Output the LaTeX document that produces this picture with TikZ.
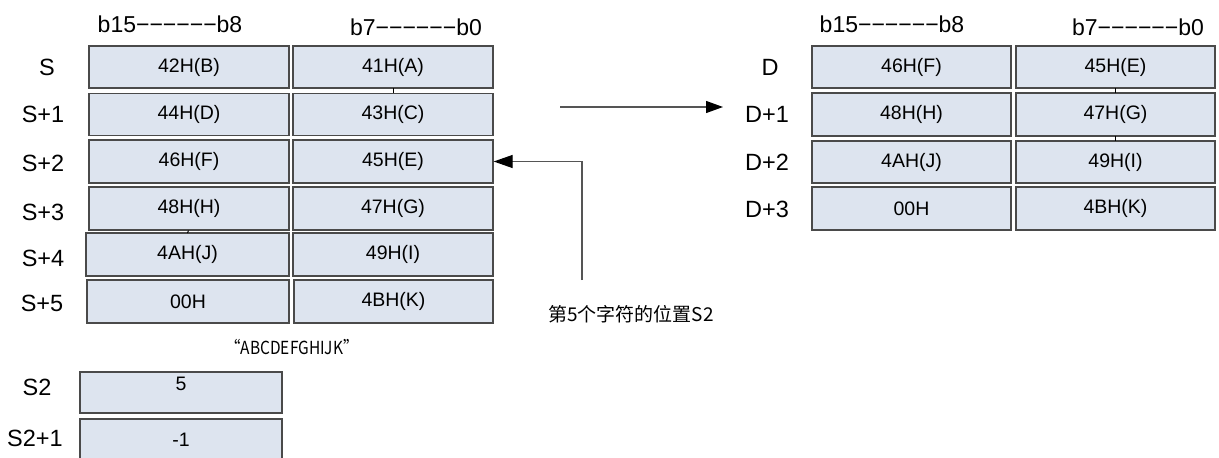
\documentclass[tikz,border=0pt]{standalone}
\usepackage{fontspec}
\setmainfont{Liberation Sans}
\newfontfamily\cjkfont{Noto Sans CJK SC}
\usetikzlibrary{arrows.meta}
\definecolor{cellfill}{HTML}{DDE4EF}
\definecolor{cellborder}{HTML}{4A4A4A}
\definecolor{arrowline}{HTML}{555555}
\tikzset{
  cell/.style={draw=cellborder, fill=cellfill, line width=1.3pt, inner sep=0pt,
    minimum width=200pt, minimum height=42pt, font=\fontsize{19.5}{23}\selectfont},
  rowlabel/.style={inner sep=0pt, font=\fontsize{23.5}{28}\selectfont},
  bitlabel/.style={inner sep=0pt, anchor=base, font=\fontsize{23}{27}\selectfont},
  cjktext/.style={inner sep=0pt, font=\cjkfont\fontsize{16}{19}\selectfont},
  conn/.style={draw=arrowline, line width=1.2pt},
  tick/.style={draw=black, line width=1pt},
}
\begin{document}
\begin{tikzpicture}[x=1pt,y=-1pt]
\useasboundingbox (0,0) rectangle (1219,458);
% headers
\node[bitlabel] (h1) at (170,32) {b15−−−−−−b8};
\node[bitlabel] (h2) at (416,35) {b7−−−−−−b0};
\node[bitlabel] (h3) at (892,32) {b15−−−−−−b8};
\node[bitlabel] (h4) at (1138,35) {b7−−−−−−b0};
% S table
\node[cell] (s0l) at (189,67) {42H(B)};
\node[cell] (s0r) at (393,67) {41H(A)};
\node[cell] (s1l) at (189,114.5) {44H(D)};
\node[cell] (s1r) at (393,114.5) {43H(C)};
\node[cell, minimum height=43pt] (s2l) at (189,161.5) {46H(F)};
\node[cell, minimum height=43pt] (s2r) at (393,161.5) {45H(E)};
\node[cell, minimum height=43pt] (s3l) at (189,208.5) {48H(H)};
\node[cell, minimum height=43pt] (s3r) at (393,208.5) {47H(G)};
\node[cell, minimum height=43pt, minimum width=203pt] (s4l) at (187.5,254.5) {4AH(J)};
\node[cell, minimum height=43pt] (s4r) at (393,254.5) {49H(I)};
\node[cell, minimum height=43pt, minimum width=202pt] (s5l) at (188,301.5) {00H};
\node[cell, minimum height=43pt, minimum width=199pt] (s5r) at (393.5,301.5) {4BH(K)};
\node[rowlabel] (ls0) at (47,67) {S};
\node[rowlabel] (ls1) at (43,114) {S+1};
\node[rowlabel] (ls2) at (43,163) {S+2};
\node[rowlabel] (ls3) at (43,212) {S+3};
\node[rowlabel] (ls4) at (43,258) {S+4};
\node[rowlabel] (ls5) at (42,303) {S+5};
\draw[tick] (393,88) -- (393,93);
\draw[tick] (188.5,230.5) -- (187.5,233);
% string text
\node[cjktext, font=\cjkfont\fontsize{18}{21}\selectfont] (str) at (292,347) {\scalebox{0.86}[1]{“ABCDEFGHIJK”}};
% S2 table
\node[cell, minimum width=202pt, minimum height=41pt] (t0) at (181,392.5) {};
\node[inner sep=0pt, font=\fontsize{19.5}{23}\selectfont] (t0txt) at (181,384) {5};
\node[cell, minimum width=202pt, minimum height=42pt] (t1) at (181,440) {-1};
\node[rowlabel] (lt0) at (37,387) {S2};
\node[rowlabel] (lt1) at (35,438) {S2+1};
% D table
\node[cell, minimum width=199pt] (d0l) at (911.5,67) {46H(F)};
\node[cell, minimum width=199pt] (d0r) at (1115.5,67) {45H(E)};
\node[cell, minimum width=199pt, minimum height=43pt] (d1l) at (911.5,114.5) {48H(H)};
\node[cell, minimum width=199pt, minimum height=43pt] (d1r) at (1115.5,114.5) {47H(G)};
\node[cell, minimum width=199pt] (d2l) at (911.5,162) {4AH(J)};
\node[cell, minimum width=199pt] (d2r) at (1115.5,162) {49H(I)};
\node[cell, minimum width=199pt, minimum height=43pt] (d3l) at (911.5,208.5) {00H};
\node[cell, minimum width=199pt, minimum height=43pt] (d3r) at (1115.5,208.5) {4BH(K)};
\node[rowlabel] (ld0) at (770,67) {D};
\node[rowlabel] (ld1) at (767,114) {D+1};
\node[rowlabel] (ld2) at (767,162) {D+2};
\node[rowlabel] (ld3) at (767,209) {D+3};
\draw[tick] (1115,88) -- (1115,93);
\draw[tick] (1115,136) -- (1115,141);
% arrows
\coordinate (a1s) at (560,107);
\coordinate (a1e) at (723,107);
\draw[conn, -{Triangle[length=17pt,width=12pt,color=black]}] (a1s) -- (a1e);
\coordinate (a2s) at (582,280);
\draw[conn, -{Triangle[length=19pt,width=13pt,color=black]}] (a2s) |- (s2r.east);
\node[cjktext, font=\cjkfont\fontsize{19}{22}\selectfont] (note) at (631,314) {第5个字符的位置S2};
\end{tikzpicture}
\end{document}
